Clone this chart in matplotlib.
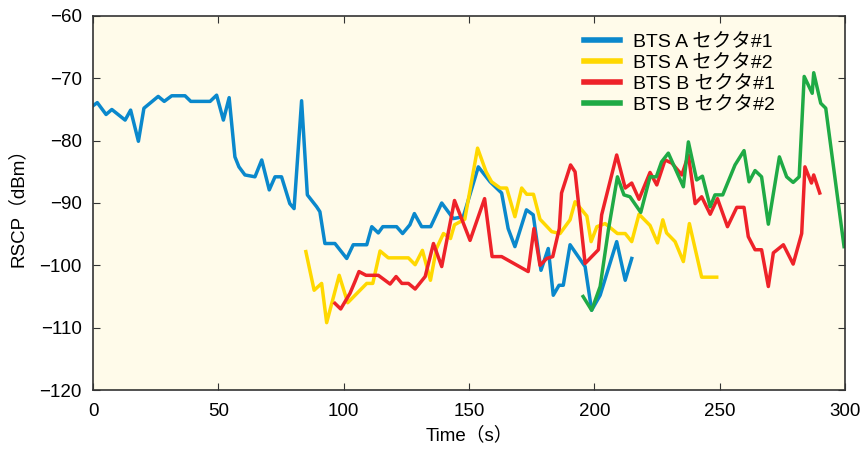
import matplotlib
matplotlib.use('Agg')
import matplotlib.pyplot as plt
from matplotlib import font_manager

# series
a1_t = [0, 1.7, 5.2, 7.5, 12.8, 15, 18.1, 20.3, 26, 28.4, 31.4, 36.7, 39, 46.7, 49.3, 52, 54.3,
        56.6, 58.2, 60.6, 64.6, 67.3, 70.3, 72.6, 75.2, 78.5, 80.2, 83.2, 85.5, 89.2, 90.5, 92.5,
        96.5, 101.2, 103.8, 109.2, 111.2, 113.8, 115.6, 121.1, 123.5, 126.4, 128.2, 131.1, 134.7,
        139.1, 143.7, 147.7, 153.7, 158.4, 163, 165.6, 168.3, 172.9, 175.6, 178.7, 181.6, 183.6,
        185.9, 187.6, 190.3, 196.3, 198.9, 202.3, 208.9, 212.3, 214.9]
a1_v = [-74.4, -73.9, -75.8, -75.0, -76.7, -75.1, -80.1, -74.8, -72.9, -73.7, -72.8, -72.8, -73.7,
        -73.7, -72.7, -76.7, -73.1, -82.6, -84.2, -85.5, -85.8, -83.1, -87.9, -85.8, -85.8, -90.1,
        -90.9, -73.6, -88.7, -90.6, -91.4, -96.5, -96.5, -98.9, -96.7, -96.7, -93.8, -94.8, -93.8,
        -93.8, -94.9, -93.5, -91.7, -93.8, -93.8, -90.0, -92.5, -92.2, -84.2, -86.6, -88.4, -94.1,
        -97.0, -91.1, -91.9, -100.8, -97.3, -104.8, -103.2, -103.2, -96.7, -100.2, -107.2, -104.8,
        -96.2, -102.4, -98.9]

a2_t = [84.9, 88.2, 91.2, 93.2, 98.2, 101.6, 109.2, 111.6, 114.5, 117.8, 125.8, 128.5, 131.4,
        134.6, 137, 139.8, 142.6, 144.2, 148.3, 153.4, 156.8, 159, 162.4, 165, 168.3, 171, 173,
        175.7, 178.3, 183, 186.3, 190.3, 192.3, 197, 198.7, 201, 204.3, 209.2, 212.3, 214.9, 217.8,
        222.2, 225.2, 227.3, 228.8, 232.2, 235.5, 237.9, 242.8, 248.8]
a2_v = [-97.8, -104.0, -102.9, -109.2, -101.6, -106.0, -102.9, -102.9, -97.7, -98.8, -98.8, -99.9,
        -97.6, -102.4, -97.3, -94.9, -95.7, -93.5, -92.6, -81.2, -85.0, -86.6, -87.6, -87.6, -92.2,
        -87.6, -88.6, -88.6, -92.6, -94.6, -94.9, -92.7, -89.8, -92.1, -96.2, -93.8, -93.3, -94.9,
        -94.9, -96.2, -91.8, -93.6, -96.4, -92.7, -94.8, -96.2, -99.4, -93.3, -101.9, -101.9]

b1_t = [96.5, 98.8, 102.5, 104.5, 106.1, 108.9, 113.8, 118.5, 120.9, 123.2, 125.8, 128.5, 132.5,
        135.8, 139.1, 144.2, 150.4, 156.2, 159.2, 163, 173.6, 175.9, 178.3, 181, 183.4, 186, 186.9,
        190.5, 192.3, 196.3, 201.6, 202.9, 208.9, 212.3, 214.9, 217.8, 222.2, 224.9, 228.2, 230.9,
        234.9, 237.5, 240.2, 242.8, 246.2, 249.1, 253.1, 256.8, 259.7, 261.4, 264.1, 266.7, 269.4,
        271.4, 275.4, 279.3, 282.7, 284, 286.6, 287.5, 289.9]
b1_v = [-106.1, -107.0, -104.5, -102.6, -101.0, -101.6, -101.6, -103.0, -101.8, -102.9, -102.9,
        -103.8, -101.8, -96.5, -100.2, -89.6, -96.0, -89.3, -98.6, -98.6, -101.0, -94.1, -100.0,
        -98.9, -98.6, -94.1, -88.4, -83.9, -85.0, -99.7, -97.5, -91.9, -82.3, -87.6, -86.8, -89.4,
        -85.1, -87.1, -83.1, -83.6, -85.5, -82.3, -90.1, -89.0, -91.8, -89.3, -93.8, -90.7, -90.7,
        -95.4, -97.5, -97.5, -103.4, -98.0, -96.7, -99.8, -94.9, -84.2, -86.8, -85.5, -88.4]

b2_t = [195.5, 198.9, 202.3, 205.6, 209.2, 211.8, 214.2, 218.5, 222.2, 224.7, 226.8, 229.5, 235.5,
        237.5, 240.8, 243.1, 246.2, 248.1, 251.2, 256.1, 259.7, 261.7, 264.1, 266.7, 269.4, 273.8,
        276.7, 279.3, 281.7, 283.7, 286.9, 287.5, 290.3, 292.3, 299.6]
b2_v = [-105.0, -107.2, -103.4, -94.3, -85.8, -88.7, -89.0, -91.5, -85.8, -85.8, -83.4, -82.0,
        -87.4, -80.2, -86.3, -85.7, -90.6, -88.7, -88.7, -83.9, -81.6, -86.6, -84.8, -85.8, -93.4,
        -82.6, -85.8, -86.7, -85.8, -69.7, -72.4, -69.1, -74.0, -74.8, -97.0]

labels = ['BTS A セクタ#1', 'BTS A セクタ#2', 'BTS B セクタ#1', 'BTS B セクタ#2']
colors = ['#0a88cc', '#ffd800', '#ee2229', '#1faa45']

installed = {f.name for f in font_manager.fontManager.ttflist}
base = 'Liberation Sans Narrow' if 'Liberation Sans Narrow' in installed else 'Liberation Sans'
plt.rcParams['font.family'] = [base, 'Noto Sans CJK JP', 'DejaVu Sans']

fig = plt.figure(figsize=(8.63, 4.49), dpi=100)
ax = fig.add_axes([0.1078, 0.1314, 0.8714, 0.8330])
ax.set_facecolor('#fffbea')

for t, v, lab, c in zip([a1_t, a2_t, b1_t, b2_t], [a1_v, a2_v, b1_v, b2_v], labels, colors):
    ax.plot(t, v, color=c, lw=2.5, label=lab)

ax.set_xlim(0, 300)
ax.set_ylim(-120, -60)
ax.set_xticks(range(0, 301, 50))
ax.set_yticks(range(-120, -59, 10))
ax.tick_params(axis='both', which='both', direction='in', top=True, right=True,
               length=5, labelsize=13.5, color='#333333')
ax.tick_params(axis='x', pad=9)
ax.tick_params(axis='y', pad=8)
for s in ax.spines.values():
    s.set_color('#333333')
    s.set_linewidth(1.2)

ax.set_xlabel('Time（s）', fontsize=13.5, labelpad=5)
ax.set_ylabel('RSCP（dBm）', fontsize=13.5, labelpad=9)

leg = ax.legend(loc='upper right', bbox_to_anchor=(0.93, 1.0), frameon=False,
                prop={'family': ['Liberation Sans', 'Noto Sans CJK JP'], 'size': 14},
                handlelength=1.85, handletextpad=0.65, labelspacing=0.17)
for h in leg.get_lines():
    h.set_linewidth(4)

fig.savefig('out.png', dpi=100)
